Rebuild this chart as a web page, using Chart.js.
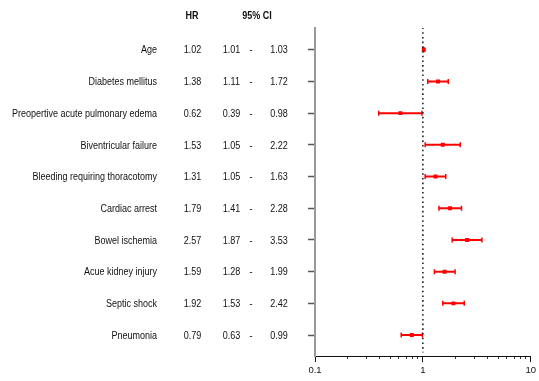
<!DOCTYPE html>
<html>
<head>
<meta charset="utf-8">
<script src="https://cdn.jsdelivr.net/npm/chart.js@4.4.0/dist/chart.umd.min.js"></script>
<style>
  html, body { margin: 0; padding: 0; background: #fff; }
  #wrap { width: 539px; height: 381px; }
</style>
</head>
<body>
<div id="wrap"><canvas id="c"></canvas></div>
<script>
// forest plot data
const variables = ['Age', 'Diabetes mellitus', 'Preopertive acute pulmonary edema', 'Biventricular failure',
  'Bleeding requiring thoracotomy', 'Cardiac arrest', 'Bowel ischemia', 'Acue kidney injury', 'Septic shock', 'Pneumonia'];
const hr    = [1.02, 1.38, 0.62, 1.53, 1.31, 1.79, 2.57, 1.59, 1.92, 0.79];
const lower = [1.01, 1.11, 0.39, 1.05, 1.05, 1.41, 1.87, 1.28, 1.53, 0.63];
const upper = [1.03, 1.72, 0.98, 2.22, 1.63, 2.28, 3.53, 1.99, 2.42, 0.99];
const hrLabels    = ['1.02', '1.38', '0.62', '1.53', '1.31', '1.79', '2.57', '1.59', '1.92', '0.79'];
const lowerLabels = ['1.01', '1.11', '0.39', '1.05', '1.05', '1.41', '1.87', '1.28', '1.53', '0.63'];
const upperLabels = ['1.03', '1.72', '0.98', '2.22', '1.63', '2.28', '3.53', '1.99', '2.42', '0.99'];
const xTickLabels = [0.1, 1, 10];
const xMinorTicks = [0.2, 0.3, 0.4, 0.5, 0.6, 0.7, 0.8, 0.9, 2, 3, 4, 5, 6, 7, 8, 9];

const RED = '#ff0000';
const FONT = '"Liberation Sans", Arial, sans-serif';

const datasets = [];

// reference line at HR = 1
datasets.push({
  data: [{ x: 1, y: -0.7 }, { x: 1, y: 9.55 }],
  showLine: true,
  borderColor: '#222',
  borderWidth: 1.6,
  borderDash: [1.6, 3.1],
  pointRadius: 0
});

// confidence intervals, one line per row with vertical caps
variables.forEach((v, i) => {
  datasets.push({
    data: [{ x: lower[i], y: i }, { x: upper[i], y: i }],
    showLine: true,
    borderColor: RED,
    borderWidth: 2,
    pointStyle: 'line',
    rotation: 90,
    pointRadius: 2.5,
    pointBorderWidth: 1.5,
    pointBorderColor: RED
  });
});

// hazard ratio markers
datasets.push({
  data: hr.map((h, i) => ({ x: h, y: i })),
  pointStyle: 'rect',
  pointRadius: 2.8,
  backgroundColor: RED,
  borderColor: RED,
  borderWidth: 0
});

// narrow text, like the original figure
function narrowText(ctx, t, x, y) {
  ctx.save();
  ctx.translate(x, y);
  ctx.scale(0.9, 1);
  ctx.fillText(t, 0, 0);
  ctx.restore();
}

// draws the table of text on the left
const tablePlugin = {
  id: 'table',
  afterDraw(chart) {
    const ctx = chart.ctx;
    const y = chart.scales.y;
    ctx.save();
    ctx.fillStyle = '#111';
    ctx.textBaseline = 'middle';
    ctx.font = 'bold 10px ' + FONT;
    ctx.textAlign = 'center';
    const hy = y.getPixelForValue(-1.1) + 1;
    narrowText(ctx, 'HR', 192, hy);
    narrowText(ctx, '95% CI', 257, hy);
    ctx.font = '10px ' + FONT;
    variables.forEach((v, i) => {
      const py = y.getPixelForValue(i) + 1;
      ctx.textAlign = 'right';
      narrowText(ctx, v, 157, py);
      ctx.textAlign = 'center';
      narrowText(ctx, hrLabels[i], 192.5, py);
      narrowText(ctx, lowerLabels[i], 231.5, py);
      narrowText(ctx, '-', 251, py);
      narrowText(ctx, upperLabels[i], 279, py);
    });
    ctx.restore();
  }
};

new Chart(document.getElementById('c'), {
  type: 'scatter',
  data: { datasets },
  options: {
    responsive: true,
    maintainAspectRatio: false,
    animation: false,
    layout: { padding: { left: 308, top: 28, right: 3, bottom: 0 } },
    plugins: { legend: { display: false }, tooltip: { enabled: false } },
    scales: {
      x: {
        type: 'logarithmic',
        min: 0.1,
        max: 10,
        weight: 1,
        afterBuildTicks: s => { s.ticks = xTickLabels.map(v => ({ value: v })); },
        afterFit: s => { s.height = 25; },
        ticks: {
          color: '#111',
          font: { family: FONT, size: 9.5 },
          padding: 3,
          maxRotation: 0,
          autoSkip: false,
          callback: v => String(v)
        },
        grid: { drawOnChartArea: false, tickLength: 6, tickColor: '#111', tickWidth: 1 },
        border: { color: '#111', width: 1 }
      },
      xMinor: {
        type: 'logarithmic',
        position: 'bottom',
        axis: 'x',
        min: 0.1,
        max: 10,
        weight: 0,
        afterBuildTicks: s => { s.ticks = xMinorTicks.map(v => ({ value: v })); },
        afterFit: s => { s.height = 0; },
        ticks: { display: false, autoSkip: false },
        grid: { drawOnChartArea: false, tickLength: 3, tickColor: '#333', tickWidth: 1 },
        border: { display: false }
      },
      y: {
        type: 'linear',
        reverse: true,
        min: -0.685,
        max: 9.66,
        afterBuildTicks: s => { s.ticks = variables.map((v, i) => ({ value: i })); },
        afterFit: s => { s.width = 7; },
        ticks: { display: false },
        grid: { drawOnChartArea: false, tickLength: 7, tickColor: '#555', tickWidth: 1.5 },
        border: { color: '#999', width: 2 }
      }
    }
  },
  plugins: [tablePlugin]
});
</script>
</body>
</html>
